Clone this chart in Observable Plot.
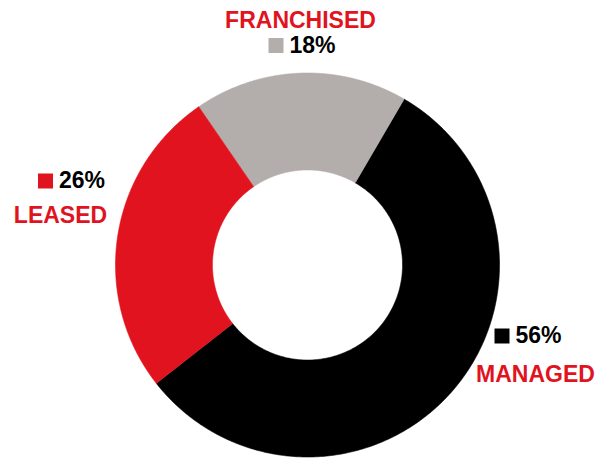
<!DOCTYPE html>
<html><head><meta charset="utf-8">
<script src="https://cdn.jsdelivr.net/npm/d3@7"></script>
<script src="https://cdn.jsdelivr.net/npm/@observablehq/plot@0.6"></script>
<style>html,body{margin:0;padding:0;background:#fff;} svg{display:block}</style>
</head><body><div id="chart"></div>
<script>
// Data
const categories = ["FRANCHISED", "MANAGED", "LEASED"];
const shares = [18, 56, 26];
const pctLabels = ["18%", "56%", "26%"];
const colors = ["#b3adab", "#000000", "#e1131e"];

// Layout (pixels)
const W = 599, H = 459, CX = 307, CY = 264.5, R = 192, INNER = 0.495;
const START = -34.5 * Math.PI / 180;
// label layout: legend square centre (px) and name centre/baseline offset from it
const squarePos = [[275.5, 45], [501.5, 335.5], [45, 180.5]];
const nameOffset = [[24.5, -18], [33.5, 45.5], [15, 41.5]];

const ux = px => (px - CX) / R;
const uy = py => (CY - py) / R;

const arcs = d3.pie().sort(null).startAngle(START).endAngle(START + 2 * Math.PI)(shares);
const ring = [];
arcs.forEach((s, i) => {
  const n = 300;
  for (let k = 0; k <= n; k++) {
    const a = s.startAngle + (s.endAngle - s.startAngle) * k / n;
    ring.push({cat: categories[i], x: Math.sin(a), y: Math.cos(a)});
  }
  for (let k = n; k >= 0; k--) {
    const a = s.startAngle + (s.endAngle - s.startAngle) * k / n;
    ring.push({cat: categories[i], x: INNER * Math.sin(a), y: INNER * Math.cos(a)});
  }
});

const labels = categories.map((c, i) => ({
  cat: c,
  pct: pctLabels[i],
  sx: ux(squarePos[i][0]), sy: uy(squarePos[i][1]),
  px: ux(squarePos[i][0] + 13.5), py: uy(squarePos[i][1] + 7),
  nx: ux(squarePos[i][0] + nameOffset[i][0]), ny: uy(squarePos[i][1] + nameOffset[i][1])
}));

const font = "'Liberation Sans', Arial, Helvetica, sans-serif";

const chart = Plot.plot({
  width: W, height: H, margin: 0,
  x: {domain: [-CX / R, (W - CX) / R], axis: null},
  y: {domain: [-(H - CY) / R, CY / R], axis: null},
  color: {domain: categories, range: colors},
  marks: [
    Plot.line(ring, {x: "x", y: "y", z: "cat", fill: "cat", stroke: "cat", strokeWidth: 0.6}),
    Plot.dot(labels, {x: "sx", y: "sy", symbol: "square", r: 8.46, fill: "cat", stroke: null}),
    Plot.text(labels, {x: "px", y: "py", text: "pct", textAnchor: "start", lineAnchor: "bottom",
      fontSize: 23, fontWeight: "bold", fill: "#000", fontFamily: font}),
    Plot.text(labels, {x: "nx", y: "ny", text: "cat", textAnchor: "middle", lineAnchor: "bottom",
      fontSize: 23, fontWeight: "bold", fill: "#e1131e", fontFamily: font})
  ]
});
document.getElementById("chart").appendChild(chart);
</script>
</body></html>
